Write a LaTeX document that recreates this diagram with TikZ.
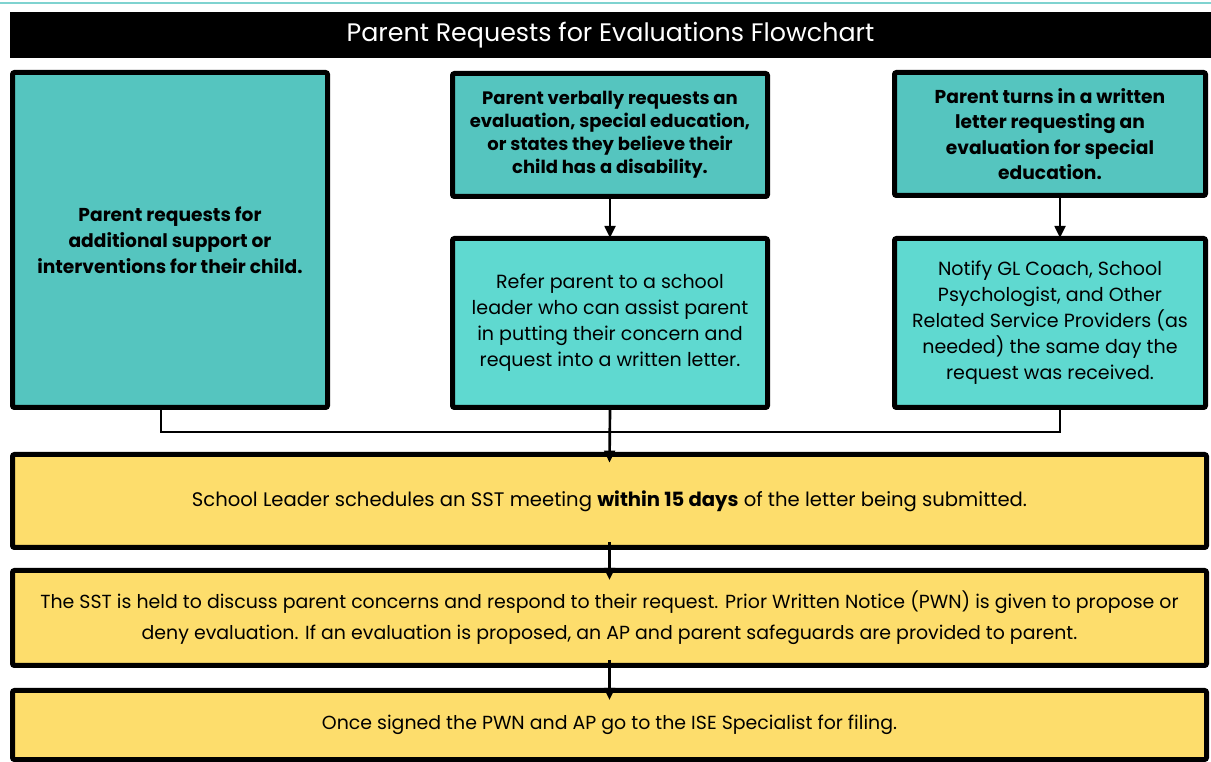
\documentclass[tikz,border=0pt]{standalone}
\usepackage{fontspec}
\setmainfont{Poppins}
\usetikzlibrary{arrows.meta}
\definecolor{tealdark}{HTML}{55C5BF}
\definecolor{teallight}{HTML}{5FD9D0}
\definecolor{sunny}{HTML}{FDDD6C}
\definecolor{rule}{HTML}{7FD3D0}
\tikzset{
  box/.style={draw=black, line width=3.75pt, rounded corners=1.5pt, align=center, inner sep=0pt,
              font=\fontsize{14.3pt}{19.5pt}\selectfont},
  askbox/.style={box, fill=tealdark, font=\fontsize{14pt}{17.25pt}\selectfont\bfseries},
  actbox/.style={box, fill=teallight, font=\fontsize{14.3pt}{19.5pt}\selectfont},
  stepbox/.style={box, fill=sunny, minimum width=895.5pt},
  link/.style={line width=2pt, -{Triangle[length=9pt,width=8pt]}},
  joinline/.style={line width=2pt}
}
\begin{document}
\begin{tikzpicture}[x=0.75pt,y=-0.75pt]
\useasboundingbox (0,0) rectangle (1211,762);
% thin rule along the top edge
\fill[rule] (0,2) rectangle (1211,4);
% title bar
\node[fill=black, text=white, minimum width=900.75pt, minimum height=34.5pt,
      inner sep=0pt, font=\fontsize{19pt}{22pt}\selectfont] (title) at (610.5,35)
      {Parent Requests for Evaluations Flowchart};
% request boxes
\node[askbox, minimum width=236.25pt, minimum height=251.25pt,
      font=\fontsize{14pt}{19.5pt}\selectfont\bfseries] (left) at (170,240)
  {Parent requests for\\additional support or\\interventions for their child.};
\node[askbox, minimum width=236.25pt, minimum height=92.25pt,
      font=\fontsize{13.5pt}{17.25pt}\selectfont\bfseries] (verbal) at (610,135)
  {Parent verbally requests an\\evaluation, special education,\\or states they believe their\\child has a disability.};
\node[askbox, minimum width=233.25pt, minimum height=92.25pt,
      font=\fontsize{14pt}{19pt}\selectfont\bfseries] (letter) at (1050,134)
  {Parent turns in a written\\letter requesting an\\evaluation for special\\education.};
% follow-up boxes
\node[actbox, minimum width=236.25pt, minimum height=126.75pt] (refer) at (610,323)
  {Refer parent to a school\\leader who can assist parent\\in putting their concern and\\request into a written letter.};
\node[actbox, minimum width=233.25pt, minimum height=126.75pt] (notify) at (1050,323)
  {Notify GL Coach, School\\Psychologist, and Other\\Related Service Providers (as\\needed) the same day the\\request was received.};
% process steps
\node[stepbox, minimum height=69.75pt, font=\fontsize{14.7pt}{19.5pt}\selectfont] (sst) at (609.5,501)
  {School Leader schedules an SST meeting \textbf{within 15 days} of the letter being submitted.};
\node[stepbox, minimum height=71.25pt, font=\fontsize{14.2pt}{23.25pt}\selectfont] (held) at (609.5,618)
  {The SST is held to discuss parent concerns and respond to their request. Prior Written Notice (PWN) is given to propose or\\deny evaluation. If an evaluation is proposed, an AP and parent safeguards are provided to parent.};
\node[stepbox, minimum height=51.75pt, font=\fontsize{14.2pt}{19.5pt}\selectfont] (file) at (609.5,725)
  {Once signed the PWN and AP go to the ISE Specialist for filing.};
% connectors
\coordinate (merge) at (610,432);
\draw[link] (verbal.south) -- ([yshift=-1.5pt]refer.north);
\draw[link] ([xshift=7.5pt]letter.south) -- ([xshift=7.5pt,yshift=-1.5pt]notify.north);
\draw[joinline] ([xshift=-6.75pt]left.south) |- (merge);
\draw[joinline] ([xshift=7.5pt]notify.south) |- (merge);
\draw[link] (refer.south) -- ([yshift=-8pt]sst.north);
\draw[link] ([yshift=6pt]sst.south) -- ([yshift=-9pt]held.north);
\draw[link] ([yshift=6pt]held.south) -- ([yshift=-9pt]file.north);
\end{tikzpicture}
\end{document}
